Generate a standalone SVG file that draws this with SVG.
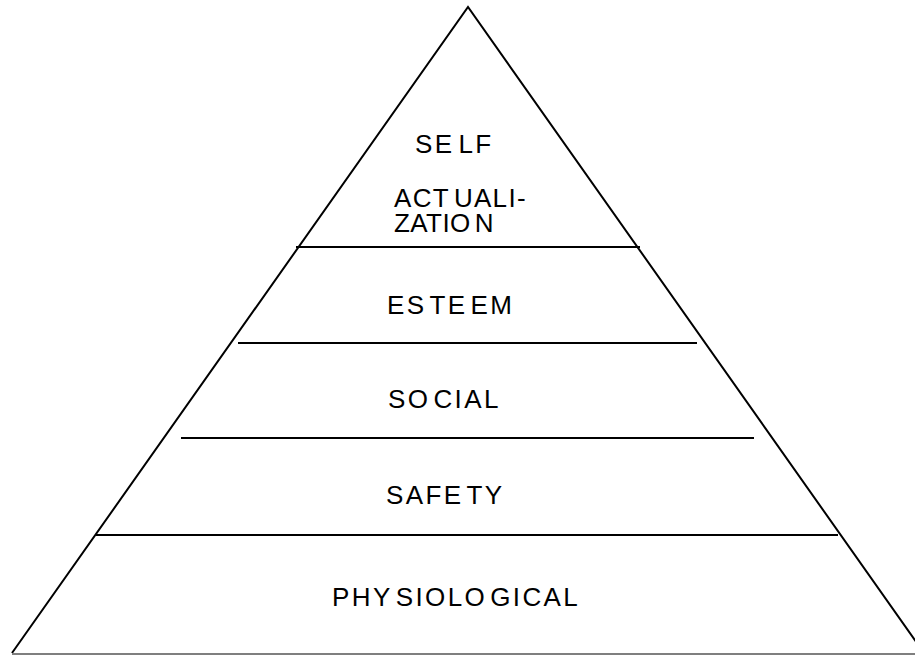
<svg xmlns="http://www.w3.org/2000/svg" width="915" height="655" viewBox="0 0 915 655">
  <style>
    .edge { stroke: #000; stroke-width: 2; fill: none; }
    .base { stroke: #7f7f7f; stroke-width: 2; fill: none; }
    .lbl { font-family: "Liberation Sans", Arial, sans-serif; font-size: 26px; letter-spacing: 2.4px; fill: #000; }
  </style>
  <rect x="0" y="0" width="915" height="655" fill="#fff"/>
  <g id="connectors">
    <!-- pyramid outline -->
    <polyline class="edge" points="12,653 468,7 924,653"/>
    <line class="base" x1="12" y1="654" x2="915" y2="654"/>
    <!-- tier dividers -->
    <line class="edge" x1="296" y1="247" x2="640" y2="247"/>
    <line class="edge" x1="238" y1="343" x2="697" y2="343"/>
    <line class="edge" x1="181" y1="438" x2="754" y2="438"/>
    <line class="edge" x1="96" y1="535" x2="838" y2="535"/>
  </g>
  <g id="self-actualization">
    <text class="lbl" x="415" y="153">SE<tspan dx="4">LF</tspan></text>
    <text class="lbl" x="394" y="207" style="letter-spacing:1.3px">ACT<tspan dx="4">UALI-</tspan></text>
    <text class="lbl" x="394" y="232" style="letter-spacing:0.4px">ZATIO<tspan dx="4">N</tspan></text>
  </g>
  <g id="esteem">
    <text class="lbl" x="387" y="314">ES<tspan dx="3">TE</tspan><tspan dx="3">EM</tspan></text>
  </g>
  <g id="social">
    <text class="lbl" x="388" y="408">SO<tspan dx="3">CIAL</tspan></text>
  </g>
  <g id="safety">
    <text class="lbl" x="386" y="504">SAFE<tspan dx="3">TY</tspan></text>
  </g>
  <g id="physiological">
    <text class="lbl" x="332" y="606">PHY<tspan dx="3">SIOLO</tspan><tspan dx="3">GICAL</tspan></text>
  </g>
</svg>
